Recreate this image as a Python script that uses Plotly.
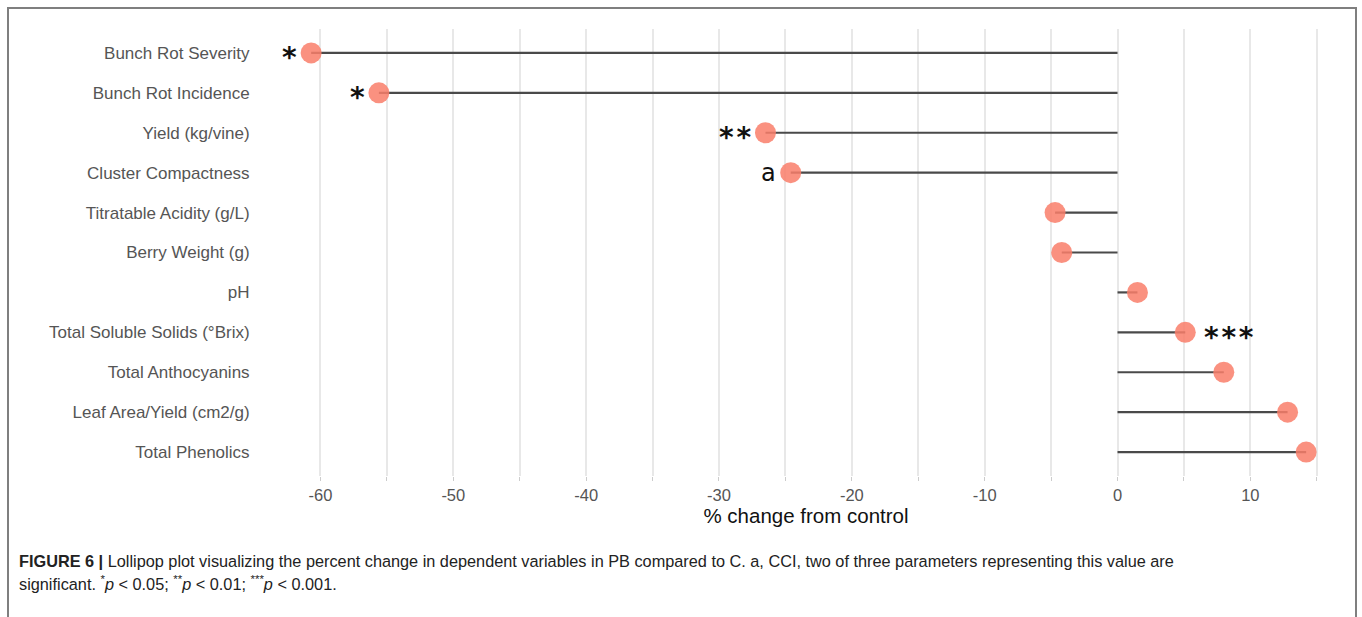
import plotly.graph_objects as go

# ---- data ----
categories = [
    "Bunch Rot Severity",
    "Bunch Rot Incidence",
    "Yield (kg/vine)",
    "Cluster Compactness",
    "Titratable Acidity (g/L)",
    "Berry Weight (g)",
    "pH",
    "Total Soluble Solids (°Brix)",
    "Total Anthocyanins",
    "Leaf Area/Yield (cm2/g)",
    "Total Phenolics",
]
pct_change = [-60.7, -55.6, -26.5, -24.6, -4.7, -4.2, 1.5, 5.1, 8.0, 12.8, 14.2]
significance = ["*", "*", "**", "a", "", "", "", "***", "", "", ""]

x_ticks = [-60, -50, -40, -30, -20, -10, 0, 10]
x_tick_labels = ["-60", "-50", "-40", "-30", "-20", "-10", "0", "10"]

# ---- layout constants (pixels) ----
W, H = 1362, 617
PL, PR, PT, PB = 262, 1350, 29, 476
pw, ph = PR - PL, PB - PT


def px_x(p):
    return (p - PL) / pw


def px_y(p):
    return (PB - p) / ph


# segments from 0 to value
seg_x, seg_y = [], []
for c, v in zip(categories, pct_change):
    seg_x += [0, v, None]
    seg_y += [c, c, None]

fig = go.Figure()
fig.add_trace(go.Scatter(
    x=seg_x, y=seg_y, mode="lines",
    line=dict(color="#4a4a4a", width=2.2),
    hoverinfo="skip", showlegend=False,
))
fig.add_trace(go.Scatter(
    x=pct_change, y=categories, mode="markers",
    marker=dict(size=21, color="rgba(249,126,106,0.85)", line=dict(width=0)),
    showlegend=False,
))

# significance labels
for c, v, s in zip(categories, pct_change, significance):
    if not s:
        continue
    is_star = s != "a"
    label = "\u200a".join(s) if is_star else s
    fig.add_annotation(
        x=v, y=c, xref="x", yref="y",
        text=f"<b>{label}</b>" if is_star else label,
        showarrow=False,
        xanchor="right" if v < 0 else "left",
        xshift=(-12 if is_star else -13) if v < 0 else 17,
        yshift=-5 if is_star else 0,
        font=dict(family="DejaVu Sans", size=28 if is_star else 24, color="#111111"),
    )

# caption
cap_font = dict(family="Liberation Sans", size=16.3, color="#222222")
fig.add_annotation(
    xref="paper", yref="paper", x=px_x(17), y=px_y(561),
    xanchor="left", yanchor="middle", showarrow=False, align="left",
    text="<b>FIGURE 6 |</b> Lollipop plot visualizing the percent change in dependent variables in PB compared to C. a, CCI, two of three parameters representing this value are",
    font=cap_font,
)
fig.add_annotation(
    xref="paper", yref="paper", x=px_x(17), y=px_y(583),
    xanchor="left", yanchor="middle", showarrow=False, align="left",
    text="significant. <sup>*</sup><i>p</i> &lt; 0.05; <sup>**</sup><i>p</i> &lt; 0.01; <sup>***</sup><i>p</i> &lt; 0.001.",
    font=cap_font,
)

# outer frame
fig.add_shape(
    type="rect", xref="paper", yref="paper",
    x0=px_x(8), x1=px_x(1356), y0=px_y(640), y1=px_y(8),
    line=dict(color="#7f7f7f", width=2), layer="below",
)

fig.update_layout(
    width=W, height=H,
    margin=dict(l=PL, r=W - PR, t=PT, b=H - PB),
    paper_bgcolor="white", plot_bgcolor="white",
    font=dict(family="Liberation Sans"),
)
fig.update_xaxes(
    range=[-64.4, 17.5],
    tickvals=x_ticks, ticktext=x_tick_labels,
    showgrid=True, gridcolor="#e8e8e8", gridwidth=1.6,
    minor=dict(dtick=5, tick0=0, showgrid=True, gridcolor="#e8e8e8", gridwidth=1.6,
               ticks="outside", ticklen=4, tickcolor="#cccccc"),
    ticks="outside", ticklen=4, tickcolor="#cccccc",
    zeroline=False, showline=False,
    tickfont=dict(family="Liberation Sans", size=16.5, color="#555555"),
    title=dict(text="% change from control", standoff=2,
               font=dict(family="Liberation Sans", size=20.5, color="#111111")),
)
fig.update_yaxes(
    categoryorder="array", categoryarray=categories,
    range=[len(categories) - 0.4, -0.6],
    showgrid=False, zeroline=False, showline=False,
    ticks="outside", ticklen=8, tickcolor="rgba(0,0,0,0)",
    tickfont=dict(family="Liberation Sans", size=17, color="#555555"),
)

fig.write_html("out.html")
